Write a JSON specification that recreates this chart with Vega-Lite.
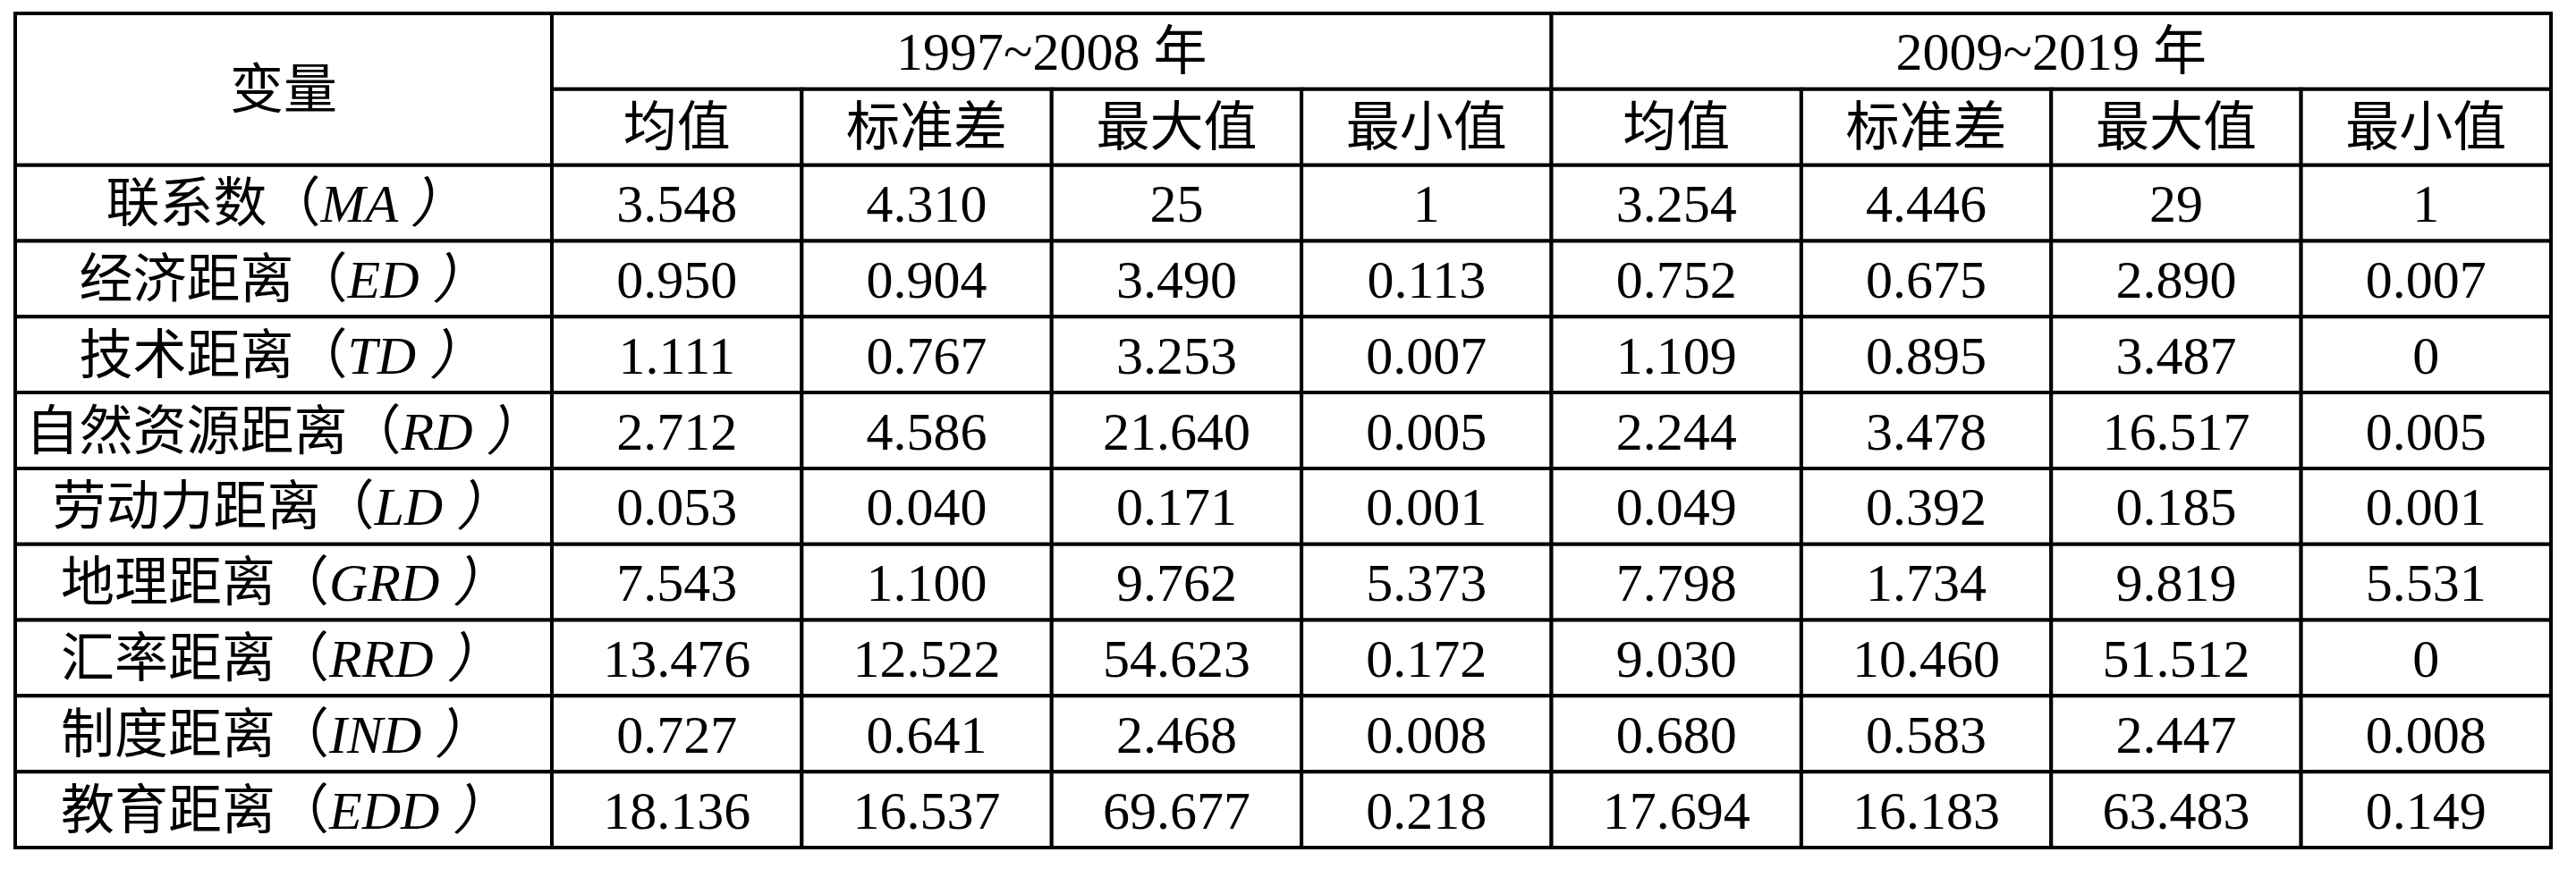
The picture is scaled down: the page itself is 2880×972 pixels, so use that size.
{
  "$schema": "https://vega.github.io/schema/vega-lite/v6.json",
  "width": 2880,
  "height": 972,
  "autosize": {"type": "fit", "contains": "padding"},
  "padding": 0,
  "background": "white",
  "config": {
    "view": {"stroke": null},
    "text": {"font": "Liberation Serif, Noto Sans CJK SC", "fontSize": 60, "fill": "black", "baseline": "middle", "dy": 3}
  },
  "datasets": {
    "head": [
      {"label": "变量", "r0": 0, "r1": 2, "c0": 0, "c1": 1},
      {"label": "1997~2008 年", "r0": 0, "r1": 1, "c0": 1, "c1": 5},
      {"label": "2009~2019 年", "r0": 0, "r1": 1, "c0": 5, "c1": 9},
      {"label": "均值", "r0": 1, "r1": 2, "c0": 1, "c1": 2},
      {"label": "标准差", "r0": 1, "r1": 2, "c0": 2, "c1": 3},
      {"label": "最大值", "r0": 1, "r1": 2, "c0": 3, "c1": 4},
      {"label": "最小值", "r0": 1, "r1": 2, "c0": 4, "c1": 5},
      {"label": "均值", "r0": 1, "r1": 2, "c0": 5, "c1": 6},
      {"label": "标准差", "r0": 1, "r1": 2, "c0": 6, "c1": 7},
      {"label": "最大值", "r0": 1, "r1": 2, "c0": 7, "c1": 8},
      {"label": "最小值", "r0": 1, "r1": 2, "c0": 8, "c1": 9}
    ],
    "body": [
      {"name": "联系数", "code": "MA", "a_mean": "3.548", "a_sd": "4.310", "a_max": "25", "a_min": "1", "b_mean": "3.254", "b_sd": "4.446", "b_max": "29", "b_min": "1"},
      {"name": "经济距离", "code": "ED", "a_mean": "0.950", "a_sd": "0.904", "a_max": "3.490", "a_min": "0.113", "b_mean": "0.752", "b_sd": "0.675", "b_max": "2.890", "b_min": "0.007"},
      {"name": "技术距离", "code": "TD", "a_mean": "1.111", "a_sd": "0.767", "a_max": "3.253", "a_min": "0.007", "b_mean": "1.109", "b_sd": "0.895", "b_max": "3.487", "b_min": "0"},
      {"name": "自然资源距离", "code": "RD", "a_mean": "2.712", "a_sd": "4.586", "a_max": "21.640", "a_min": "0.005", "b_mean": "2.244", "b_sd": "3.478", "b_max": "16.517", "b_min": "0.005"},
      {"name": "劳动力距离", "code": "LD", "a_mean": "0.053", "a_sd": "0.040", "a_max": "0.171", "a_min": "0.001", "b_mean": "0.049", "b_sd": "0.392", "b_max": "0.185", "b_min": "0.001"},
      {"name": "地理距离", "code": "GRD", "a_mean": "7.543", "a_sd": "1.100", "a_max": "9.762", "a_min": "5.373", "b_mean": "7.798", "b_sd": "1.734", "b_max": "9.819", "b_min": "5.531"},
      {"name": "汇率距离", "code": "RRD", "a_mean": "13.476", "a_sd": "12.522", "a_max": "54.623", "a_min": "0.172", "b_mean": "9.030", "b_sd": "10.460", "b_max": "51.512", "b_min": "0"},
      {"name": "制度距离", "code": "IND", "a_mean": "0.727", "a_sd": "0.641", "a_max": "2.468", "a_min": "0.008", "b_mean": "0.680", "b_sd": "0.583", "b_max": "2.447", "b_min": "0.008"},
      {"name": "教育距离", "code": "EDD", "a_mean": "18.136", "a_sd": "16.537", "a_max": "69.677", "a_min": "0.218", "b_mean": "17.694", "b_sd": "16.183", "b_max": "63.483", "b_min": "0.149"}
    ]
  },
  "layer": [
    {
      "data": {"name": "head"},
      "transform": [
        {"calculate": "(datum.c0 + datum.c1) / 2", "as": "xc"},
        {"calculate": "(datum.r0 + datum.r1) / 2", "as": "yc"}
      ],
      "layer": [
        {
          "mark": {"type": "rect", "fill": "white", "stroke": "black", "strokeWidth": 4},
          "encoding": {
            "x": {"field": "c0", "type": "quantitative", "axis": null, "scale": {"type": "linear", "domain": [0, 1, 9], "range": [17, 617, 2852], "nice": false, "zero": false}},
            "x2": {"field": "c1"},
            "y": {"field": "r0", "type": "quantitative", "axis": null, "scale": {"domain": [0, 11], "range": [15, 948], "nice": false, "zero": false}},
            "y2": {"field": "r1"}
          }
        },
        {
          "mark": {"type": "text"},
          "encoding": {
            "x": {"field": "xc", "type": "quantitative", "axis": null},
            "y": {"field": "yc", "type": "quantitative", "axis": null},
            "text": {"field": "label"}
          }
        }
      ]
    },
    {
      "data": {"name": "body"},
      "transform": [
        {"window": [{"op": "row_number", "as": "i"}]},
        {"fold": ["a_mean", "a_sd", "a_max", "a_min", "b_mean", "b_sd", "b_max", "b_min"], "as": ["key", "val"]},
        {"calculate": "indexof(['a_mean', 'a_sd', 'a_max', 'a_min', 'b_mean', 'b_sd', 'b_max', 'b_min'], datum.key) + 1", "as": "c0"},
        {"calculate": "datum.c0 + 1", "as": "c1"},
        {"calculate": "datum.i + 1", "as": "r0"},
        {"calculate": "datum.i + 2", "as": "r1"},
        {"calculate": "datum.c0 + 0.5", "as": "xc"},
        {"calculate": "datum.i + 1.5", "as": "yc"}
      ],
      "layer": [
        {
          "mark": {"type": "rect", "fill": "white", "stroke": "black", "strokeWidth": 4},
          "encoding": {
            "x": {"field": "c0", "type": "quantitative", "axis": null},
            "x2": {"field": "c1"},
            "y": {"field": "r0", "type": "quantitative", "axis": null},
            "y2": {"field": "r1"}
          }
        },
        {
          "mark": {"type": "text"},
          "encoding": {
            "x": {"field": "xc", "type": "quantitative", "axis": null},
            "y": {"field": "yc", "type": "quantitative", "axis": null},
            "text": {"field": "val"}
          }
        }
      ]
    },
    {
      "data": {"name": "body"},
      "transform": [
        {"window": [{"op": "row_number", "as": "i"}]},
        {"calculate": "0", "as": "c0"},
        {"calculate": "1", "as": "c1"},
        {"calculate": "datum.i + 1", "as": "r0"},
        {"calculate": "datum.i + 2", "as": "r1"},
        {"calculate": "datum.i + 1.5", "as": "yc"},
        {"calculate": "0.5 + (length(datum.name) * 60 - length(datum.code) * 41 - 15) / 1200", "as": "xa"},
        {"calculate": "datum.name + '（'", "as": "left"},
        {"calculate": "datum.code + ' ）'", "as": "right"}
      ],
      "layer": [
        {
          "mark": {"type": "rect", "fill": "white", "stroke": "black", "strokeWidth": 4},
          "encoding": {
            "x": {"field": "c0", "type": "quantitative", "axis": null},
            "x2": {"field": "c1"},
            "y": {"field": "r0", "type": "quantitative", "axis": null},
            "y2": {"field": "r1"}
          }
        },
        {
          "mark": {"type": "text", "align": "right"},
          "encoding": {
            "x": {"field": "xa", "type": "quantitative", "axis": null},
            "y": {"field": "yc", "type": "quantitative", "axis": null},
            "text": {"field": "left"}
          }
        },
        {
          "mark": {"type": "text", "align": "left", "fontStyle": "italic"},
          "encoding": {
            "x": {"field": "xa", "type": "quantitative", "axis": null},
            "y": {"field": "yc", "type": "quantitative", "axis": null},
            "text": {"field": "right"}
          }
        }
      ]
    }
  ]
}
